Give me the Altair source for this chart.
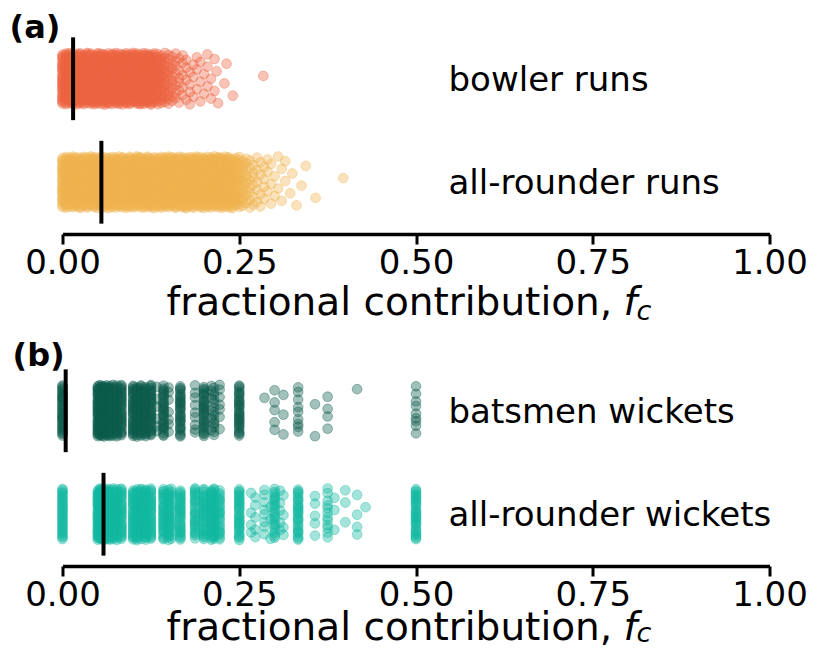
import altair as alt
import pandas as pd

# ---------------- data ----------------
# panel (a): fractional run contribution -> number of innings at that value
bowler_runs_vals = [0.000, 0.005, 0.010, 0.015, 0.020, 0.025, 0.030, 0.035, 0.040, 0.045,
                    0.050, 0.055, 0.060, 0.065, 0.070, 0.075, 0.080, 0.085, 0.090, 0.095,
                    0.100, 0.105, 0.110, 0.115, 0.120, 0.125, 0.130, 0.135, 0.140, 0.145,
                    0.150, 0.155, 0.160, 0.165, 0.170, 0.175, 0.180, 0.185, 0.190, 0.195,
                    0.200, 0.205, 0.210, 0.215, 0.218, 0.220, 0.229, 0.232, 0.241, 0.284]
bowler_runs_counts = [30, 30, 30, 30, 30, 30, 30, 30, 30, 30,
                      30, 30, 30, 30, 30, 30, 30, 30, 30, 30,
                      30, 30, 30, 30, 30, 30, 24, 20, 16, 13,
                      11, 9, 7, 6, 5, 4, 4, 3, 3, 3,
                      2, 3, 2, 2, 1, 1, 1, 1, 1, 1]

allrounder_runs_vals = [0.000, 0.005, 0.010, 0.015, 0.020, 0.025, 0.030, 0.035, 0.040, 0.045,
                        0.050, 0.055, 0.060, 0.065, 0.070, 0.075, 0.080, 0.085, 0.090, 0.095,
                        0.100, 0.105, 0.110, 0.115, 0.120, 0.125, 0.130, 0.135, 0.140, 0.145,
                        0.150, 0.155, 0.160, 0.165, 0.170, 0.175, 0.180, 0.185, 0.190, 0.195,
                        0.200, 0.205, 0.210, 0.215, 0.220, 0.225, 0.230, 0.235, 0.240, 0.245,
                        0.250, 0.255, 0.260, 0.265, 0.270, 0.275, 0.280, 0.285, 0.290, 0.295,
                        0.300, 0.305, 0.310, 0.315, 0.322, 0.325, 0.331, 0.338, 0.344, 0.358,
                        0.397]
allrounder_runs_counts = [28, 28, 28, 28, 28, 28, 28, 28, 28, 28,
                          28, 28, 28, 28, 28, 28, 28, 28, 28, 28,
                          28, 28, 28, 28, 28, 28, 28, 28, 28, 28,
                          28, 28, 28, 28, 28, 28, 28, 28, 28, 28,
                          28, 28, 28, 28, 28, 28, 28, 28, 22, 18,
                          14, 11, 9, 7, 6, 5, 4, 4, 3, 3,
                          2, 2, 2, 2, 1, 1, 1, 1, 1, 1,
                          1]

# panel (b): fractional wicket contribution -> number of matches at that value
batsmen_wkts_vals = [0.0, 0.05, 0.0526, 0.0556, 0.0588, 0.0625, 0.0667, 0.0714, 0.0769, 0.0833,
                     0.1, 0.1053, 0.1111, 0.1176, 0.125, 0.1333, 0.1429, 0.15, 0.1667, 0.1875,
                     0.2, 0.2105, 0.2143, 0.2222, 0.25, 0.2857, 0.3, 0.3125, 0.3333, 0.3571,
                     0.375, 0.4167, 0.5]
batsmen_wkts_counts = [36, 32, 32, 32, 32, 32, 32, 32, 32, 32,
                       32, 28, 32, 28, 32, 6, 30, 7, 30, 9,
                       30, 6, 14, 7, 30, 1, 5, 3, 9, 2,
                       4, 1, 9]

allrounder_wkts_vals = [0.0, 0.05, 0.0526, 0.0556, 0.0588, 0.0625, 0.0667, 0.0714, 0.0769, 0.0833,
                        0.1, 0.1053, 0.1111, 0.1176, 0.125, 0.1429, 0.15, 0.1538, 0.1667, 0.1875,
                        0.2, 0.2105, 0.2143, 0.2222, 0.25, 0.2667, 0.2727, 0.2857, 0.2941, 0.3,
                        0.3077, 0.3125, 0.3333, 0.3571, 0.375, 0.3846, 0.4, 0.4167, 0.4286, 0.5]
allrounder_wkts_counts = [34, 32, 32, 32, 32, 32, 32, 32, 32, 32,
                          32, 32, 32, 32, 32, 32, 24, 18, 32, 28,
                          32, 24, 28, 24, 32, 4, 5, 8, 3, 22,
                          5, 4, 28, 5, 12, 3, 3, 4, 1, 32]

runs_series = ["bowler runs", "all-rounder runs"]
runs_medians = [0.015, 0.055]
wkts_series = ["batsmen wickets", "all-rounder wickets"]
wkts_medians = [0.0045, 0.058]

runs_colors = ["#ED6542", "#EFB350"]
wkts_colors = ["#0C5B4D", "#13B8A0"]
tick_values = [0.0, 0.25, 0.5, 0.75, 1.0]


def expand(series, vals, counts):
    rows = []
    for v, c in zip(vals, counts):
        rows += [{"series": series, "value": v}] * c
    return rows


runs_df = pd.DataFrame(expand(runs_series[0], bowler_runs_vals, bowler_runs_counts)
                       + expand(runs_series[1], allrounder_runs_vals, allrounder_runs_counts))
wkts_df = pd.DataFrame(expand(wkts_series[0], batsmen_wkts_vals, batsmen_wkts_counts)
                       + expand(wkts_series[1], allrounder_wkts_vals, allrounder_wkts_counts))

W, H = 707, 207
FONT = "DejaVu Sans"


def panel(df, order, colors, medians, letter, letter_x, letter_y, title_y, sub_dy, top_marker):
    order_expr = "[" + ",".join("'" + s + "'" for s in order) + "]"
    xscale = alt.Scale(domain=[0, 1], nice=False, zero=False)
    yscale = alt.Scale(domain=[-0.5, 1.5], reverse=True, nice=False, zero=False)
    cscale = alt.Scale(domain=order, range=colors)

    pts = alt.Chart(df).transform_window(
        rn="row_number()", groupby=["series"]
    ).transform_calculate(
        row=f"indexof({order_expr}, datum.series)",
        jit="(((datum.rn * 0.6180339887) % 1) - 0.5) * 0.5",
    ).transform_calculate(
        yy="datum.row + datum.jit"
    ).mark_point(
        shape="circle", filled=True, size=95, fillOpacity=0.38,
        strokeOpacity=0.38, strokeWidth=1
    ).encode(
        x=alt.X("value:Q", scale=xscale,
                axis=alt.Axis(values=tick_values, format=".2f", title=None, grid=False,
                              labelFont=FONT, labelFontSize=34, labelColor="black",
                              labelPadding=2, domainColor="black", domainWidth=3.5,
                              tickColor="black", tickWidth=3, tickSize=10,
                              labelFlush=False)),
        y=alt.Y("yy:Q", scale=yscale, axis=None),
        fill=alt.Color("series:N", scale=cscale, legend=None),
        stroke=alt.Color("series:N", scale=cscale, legend=None),
    )

    med_df = pd.DataFrame({"series": order, "med": medians})
    rules = alt.Chart(med_df).transform_calculate(
        row=f"indexof({order_expr}, datum.series)"
    ).transform_calculate(
        y1="datum.row - 0.4", y2="datum.row + 0.4"
    ).mark_rule(color="black", strokeWidth=4).encode(
        x=alt.X("med:Q", scale=xscale),
        y=alt.Y("y1:Q", scale=yscale),
        y2="y2:Q",
    )

    lab_df = pd.DataFrame({"series": order})
    labels = alt.Chart(lab_df).transform_calculate(
        row=f"indexof({order_expr}, datum.series)"
    ).mark_text(
        align="left", baseline="middle", font=FONT, fontSize=34, color="black", dy=2
    ).encode(
        x=alt.value(386),
        y=alt.Y("row:Q", scale=yscale),
        text="series:N",
    )

    letter_mark = alt.Chart(pd.DataFrame({"t": [letter]})).mark_text(
        align="left", baseline="alphabetic", font=FONT, fontSize=32,
        fontWeight="bold", color="black"
    ).encode(x=alt.value(letter_x), y=alt.value(letter_y), text="t:N")

    t1 = alt.Chart(pd.DataFrame({"t": ["fractional contribution,"]})).mark_text(
        align="left", baseline="alphabetic", font=FONT, fontSize=39, color="black"
    ).encode(x=alt.value(104), y=alt.value(H + title_y), text="t:N")
    t2 = alt.Chart(pd.DataFrame({"t": ["f"]})).mark_text(
        align="left", baseline="alphabetic", font=FONT, fontSize=39,
        fontStyle="italic", color="black"
    ).encode(x=alt.value(561), y=alt.value(H + title_y), text="t:N")
    t3 = alt.Chart(pd.DataFrame({"t": ["c"]})).mark_text(
        align="left", baseline="alphabetic", font=FONT, fontSize=27,
        fontStyle="italic", color="black"
    ).encode(x=alt.value(574), y=alt.value(H + title_y + sub_dy), text="t:N")

    layers = [pts, rules, labels, letter_mark, t1, t2, t3]
    if top_marker:
        # invisible line fixing the upper extent of the figure
        frame = alt.Chart(pd.DataFrame({"k": [0]})).mark_rule(
            strokeWidth=1, opacity=0
        ).encode(x=alt.value(0), x2=alt.value(10),
                 y=alt.value(-26), y2=alt.value(-26))
        layers.append(frame)
    return alt.layer(*layers).properties(width=W, height=H)


pa = panel(runs_df, runs_series, runs_colors, runs_medians, "(a)", -53, 11, 81, 5, True)
pb = panel(wkts_df, wkts_series, wkts_colors, wkts_medians, "(b)", -50, 7, 74, 2, False)

chart = alt.vconcat(pa, pb, spacing=125, bounds="flush").resolve_scale(
    fill="independent", stroke="independent"
).properties(
    padding={"left": 1.5, "top": -7, "right": 0, "bottom": 0},
    background="white",
).configure_view(stroke=None)

chart.save("out.html", embed_options={"renderer": "svg", "actions": False})
